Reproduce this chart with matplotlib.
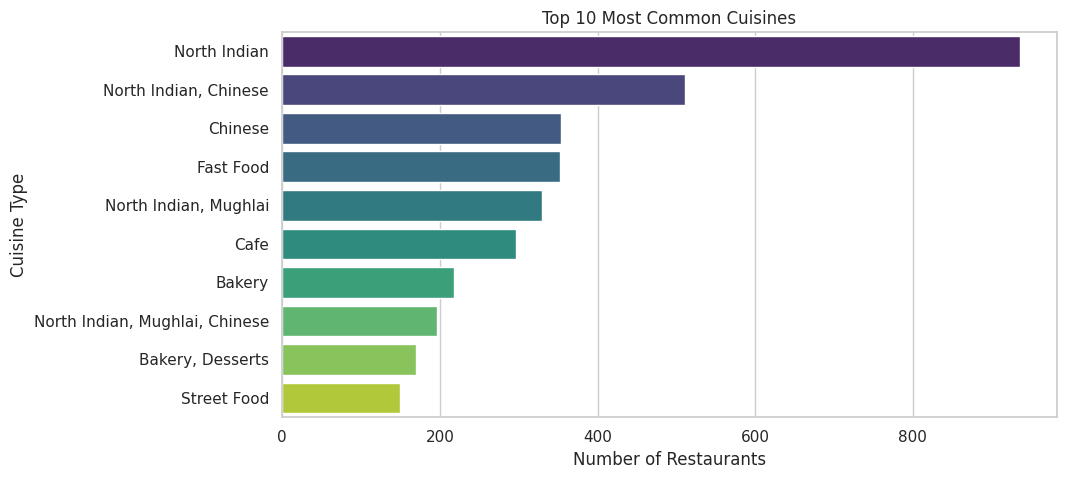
import matplotlib
matplotlib.use("Agg")
import matplotlib.pyplot as plt
import seaborn as sns

cuisines = [
    "North Indian",
    "North Indian, Chinese",
    "Chinese",
    "Fast Food",
    "North Indian, Mughlai",
    "Cafe",
    "Bakery",
    "North Indian, Mughlai, Chinese",
    "Bakery, Desserts",
    "Street Food",
]
counts = [936, 511, 354, 352, 330, 296, 218, 196, 170, 149]

sns.set_theme(style="whitegrid")

fig, ax = plt.subplots(figsize=(10.67, 4.79), dpi=100)
fig.subplots_adjust(left=0.2645, right=0.9905, top=0.933, bottom=0.129)

sns.barplot(x=counts, y=cuisines, hue=cuisines, palette="viridis",
            legend=False, ax=ax)

ax.set_title("Top 10 Most Common Cuisines")
ax.set_xlabel("Number of Restaurants")
ax.set_ylabel("Cuisine Type")

fig.savefig("out.png", dpi=100)
